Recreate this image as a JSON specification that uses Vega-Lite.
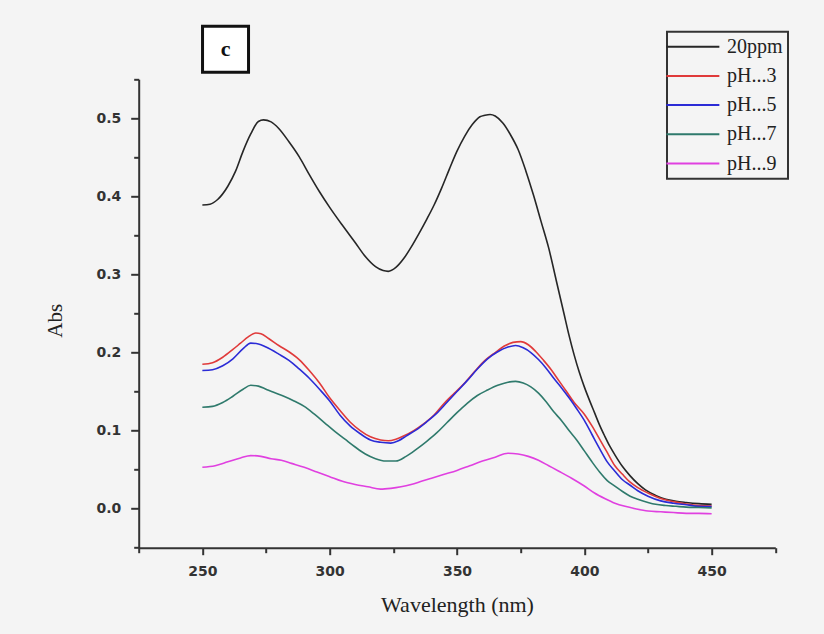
{
  "$schema": "https://vega.github.io/schema/vega-lite/v6.json",
  "autosize": {"type": "none"},
  "width": 636.6,
  "height": 468.4,
  "padding": {"left": 138.7, "top": 79.3, "right": 48.7, "bottom": 86.3},
  "background": "#f4f4f4",
  "config": {
    "view": {"stroke": null},
    "axis": {
      "domainColor": "#333333", "domainWidth": 2, "tickColor": "#333333", "tickWidth": 2,
      "labelFont": "DejaVu Sans", "labelFontWeight": "bold", "labelFontSize": 14, "labelColor": "#333333",
      "titleFont": "Liberation Serif", "titleFontWeight": "normal", "titleColor": "#222222", "grid": false
    }
  },
  "datasets": {
    "spectra": [
      {"s":"20ppm","w":250,"a":0.389},{"s":"20ppm","w":253,"a":0.390},{"s":"20ppm","w":256,"a":0.396},{"s":"20ppm","w":260,"a":0.413},{"s":"20ppm","w":263,"a":0.432},{"s":"20ppm","w":266,"a":0.458},{"s":"20ppm","w":269,"a":0.480},{"s":"20ppm","w":272,"a":0.496},{"s":"20ppm","w":274,"a":0.498},{"s":"20ppm","w":277,"a":0.4955},{"s":"20ppm","w":280,"a":0.487},{"s":"20ppm","w":284,"a":0.470},{"s":"20ppm","w":288,"a":0.451},{"s":"20ppm","w":292,"a":0.428},{"s":"20ppm","w":296,"a":0.406},{"s":"20ppm","w":300,"a":0.386},{"s":"20ppm","w":305,"a":0.363},{"s":"20ppm","w":310,"a":0.341},{"s":"20ppm","w":314,"a":0.323},{"s":"20ppm","w":318,"a":0.310},{"s":"20ppm","w":321,"a":0.305},{"s":"20ppm","w":323,"a":0.304},{"s":"20ppm","w":326,"a":0.309},{"s":"20ppm","w":329,"a":0.320},{"s":"20ppm","w":332,"a":0.335},{"s":"20ppm","w":335,"a":0.352},{"s":"20ppm","w":338,"a":0.370},{"s":"20ppm","w":341,"a":0.389},{"s":"20ppm","w":344,"a":0.411},{"s":"20ppm","w":347,"a":0.435},{"s":"20ppm","w":350,"a":0.458},{"s":"20ppm","w":353,"a":0.477},{"s":"20ppm","w":356,"a":0.492},{"s":"20ppm","w":359,"a":0.502},{"s":"20ppm","w":361,"a":0.504},{"s":"20ppm","w":363,"a":0.505},{"s":"20ppm","w":365,"a":0.503},{"s":"20ppm","w":368,"a":0.494},{"s":"20ppm","w":371,"a":0.479},{"s":"20ppm","w":374,"a":0.460},{"s":"20ppm","w":377,"a":0.433},{"s":"20ppm","w":380,"a":0.402},{"s":"20ppm","w":383,"a":0.368},{"s":"20ppm","w":386,"a":0.334},{"s":"20ppm","w":389,"a":0.292},{"s":"20ppm","w":392,"a":0.250},{"s":"20ppm","w":394,"a":0.222},{"s":"20ppm","w":396,"a":0.197},{"s":"20ppm","w":398,"a":0.175},{"s":"20ppm","w":400,"a":0.156},{"s":"20ppm","w":402,"a":0.139},{"s":"20ppm","w":404,"a":0.123},{"s":"20ppm","w":406,"a":0.107},{"s":"20ppm","w":408,"a":0.093},{"s":"20ppm","w":410,"a":0.080},{"s":"20ppm","w":412,"a":0.069},{"s":"20ppm","w":415,"a":0.054},{"s":"20ppm","w":418,"a":0.042},{"s":"20ppm","w":421,"a":0.032},{"s":"20ppm","w":424,"a":0.024},{"s":"20ppm","w":428,"a":0.017},{"s":"20ppm","w":432,"a":0.012},{"s":"20ppm","w":436,"a":0.0095},{"s":"20ppm","w":440,"a":0.008},{"s":"20ppm","w":445,"a":0.0065},{"s":"20ppm","w":450,"a":0.0055},
      {"s":"pH...3","w":250,"a":0.185},{"s":"pH...3","w":254,"a":0.187},{"s":"pH...3","w":258,"a":0.194},{"s":"pH...3","w":262,"a":0.204},{"s":"pH...3","w":265,"a":0.212},{"s":"pH...3","w":268,"a":0.220},{"s":"pH...3","w":271,"a":0.225},{"s":"pH...3","w":273,"a":0.224},{"s":"pH...3","w":276,"a":0.218},{"s":"pH...3","w":280,"a":0.209},{"s":"pH...3","w":284,"a":0.201},{"s":"pH...3","w":288,"a":0.191},{"s":"pH...3","w":292,"a":0.177},{"s":"pH...3","w":296,"a":0.161},{"s":"pH...3","w":300,"a":0.142},{"s":"pH...3","w":304,"a":0.126},{"s":"pH...3","w":308,"a":0.111},{"s":"pH...3","w":312,"a":0.100},{"s":"pH...3","w":316,"a":0.092},{"s":"pH...3","w":320,"a":0.088},{"s":"pH...3","w":323,"a":0.087},{"s":"pH...3","w":326,"a":0.089},{"s":"pH...3","w":329,"a":0.093},{"s":"pH...3","w":333,"a":0.100},{"s":"pH...3","w":337,"a":0.109},{"s":"pH...3","w":341,"a":0.120},{"s":"pH...3","w":345,"a":0.135},{"s":"pH...3","w":349,"a":0.148},{"s":"pH...3","w":353,"a":0.161},{"s":"pH...3","w":357,"a":0.176},{"s":"pH...3","w":361,"a":0.190},{"s":"pH...3","w":365,"a":0.200},{"s":"pH...3","w":369,"a":0.209},{"s":"pH...3","w":372,"a":0.213},{"s":"pH...3","w":375,"a":0.214},{"s":"pH...3","w":378,"a":0.210},{"s":"pH...3","w":381,"a":0.201},{"s":"pH...3","w":384,"a":0.190},{"s":"pH...3","w":387,"a":0.178},{"s":"pH...3","w":390,"a":0.164},{"s":"pH...3","w":393,"a":0.150},{"s":"pH...3","w":396,"a":0.136},{"s":"pH...3","w":400,"a":0.121},{"s":"pH...3","w":403,"a":0.106},{"s":"pH...3","w":406,"a":0.089},{"s":"pH...3","w":409,"a":0.072},{"s":"pH...3","w":412,"a":0.055},{"s":"pH...3","w":415,"a":0.044},{"s":"pH...3","w":418,"a":0.034},{"s":"pH...3","w":421,"a":0.027},{"s":"pH...3","w":425,"a":0.020},{"s":"pH...3","w":430,"a":0.013},{"s":"pH...3","w":435,"a":0.009},{"s":"pH...3","w":440,"a":0.006},{"s":"pH...3","w":445,"a":0.004},{"s":"pH...3","w":450,"a":0.0035},
      {"s":"pH...5","w":250,"a":0.177},{"s":"pH...5","w":254,"a":0.178},{"s":"pH...5","w":258,"a":0.183},{"s":"pH...5","w":262,"a":0.192},{"s":"pH...5","w":266,"a":0.205},{"s":"pH...5","w":269,"a":0.212},{"s":"pH...5","w":272,"a":0.211},{"s":"pH...5","w":275,"a":0.207},{"s":"pH...5","w":280,"a":0.198},{"s":"pH...5","w":284,"a":0.190},{"s":"pH...5","w":288,"a":0.179},{"s":"pH...5","w":292,"a":0.167},{"s":"pH...5","w":296,"a":0.153},{"s":"pH...5","w":300,"a":0.138},{"s":"pH...5","w":304,"a":0.120},{"s":"pH...5","w":308,"a":0.106},{"s":"pH...5","w":312,"a":0.096},{"s":"pH...5","w":316,"a":0.088},{"s":"pH...5","w":320,"a":0.085},{"s":"pH...5","w":324,"a":0.084},{"s":"pH...5","w":327,"a":0.087},{"s":"pH...5","w":330,"a":0.093},{"s":"pH...5","w":334,"a":0.101},{"s":"pH...5","w":338,"a":0.111},{"s":"pH...5","w":342,"a":0.122},{"s":"pH...5","w":346,"a":0.136},{"s":"pH...5","w":350,"a":0.150},{"s":"pH...5","w":354,"a":0.164},{"s":"pH...5","w":358,"a":0.179},{"s":"pH...5","w":362,"a":0.192},{"s":"pH...5","w":366,"a":0.201},{"s":"pH...5","w":370,"a":0.207},{"s":"pH...5","w":373,"a":0.209},{"s":"pH...5","w":376,"a":0.206},{"s":"pH...5","w":379,"a":0.200},{"s":"pH...5","w":382,"a":0.191},{"s":"pH...5","w":385,"a":0.180},{"s":"pH...5","w":388,"a":0.167},{"s":"pH...5","w":391,"a":0.155},{"s":"pH...5","w":394,"a":0.142},{"s":"pH...5","w":397,"a":0.128},{"s":"pH...5","w":400,"a":0.113},{"s":"pH...5","w":403,"a":0.095},{"s":"pH...5","w":406,"a":0.077},{"s":"pH...5","w":409,"a":0.060},{"s":"pH...5","w":412,"a":0.048},{"s":"pH...5","w":415,"a":0.037},{"s":"pH...5","w":418,"a":0.030},{"s":"pH...5","w":421,"a":0.023},{"s":"pH...5","w":425,"a":0.016},{"s":"pH...5","w":430,"a":0.010},{"s":"pH...5","w":435,"a":0.007},{"s":"pH...5","w":440,"a":0.005},{"s":"pH...5","w":445,"a":0.003},{"s":"pH...5","w":450,"a":0.0027},
      {"s":"pH...7","w":250,"a":0.130},{"s":"pH...7","w":254,"a":0.131},{"s":"pH...7","w":258,"a":0.136},{"s":"pH...7","w":262,"a":0.144},{"s":"pH...7","w":266,"a":0.153},{"s":"pH...7","w":269,"a":0.158},{"s":"pH...7","w":272,"a":0.157},{"s":"pH...7","w":275,"a":0.153},{"s":"pH...7","w":278,"a":0.149},{"s":"pH...7","w":282,"a":0.144},{"s":"pH...7","w":286,"a":0.138},{"s":"pH...7","w":290,"a":0.131},{"s":"pH...7","w":294,"a":0.121},{"s":"pH...7","w":298,"a":0.110},{"s":"pH...7","w":302,"a":0.099},{"s":"pH...7","w":306,"a":0.089},{"s":"pH...7","w":310,"a":0.079},{"s":"pH...7","w":314,"a":0.070},{"s":"pH...7","w":318,"a":0.064},{"s":"pH...7","w":322,"a":0.061},{"s":"pH...7","w":326,"a":0.061},{"s":"pH...7","w":330,"a":0.067},{"s":"pH...7","w":334,"a":0.076},{"s":"pH...7","w":338,"a":0.086},{"s":"pH...7","w":342,"a":0.097},{"s":"pH...7","w":346,"a":0.110},{"s":"pH...7","w":350,"a":0.123},{"s":"pH...7","w":354,"a":0.135},{"s":"pH...7","w":358,"a":0.145},{"s":"pH...7","w":362,"a":0.152},{"s":"pH...7","w":366,"a":0.158},{"s":"pH...7","w":370,"a":0.162},{"s":"pH...7","w":373,"a":0.163},{"s":"pH...7","w":376,"a":0.161},{"s":"pH...7","w":379,"a":0.156},{"s":"pH...7","w":382,"a":0.148},{"s":"pH...7","w":385,"a":0.137},{"s":"pH...7","w":388,"a":0.124},{"s":"pH...7","w":391,"a":0.113},{"s":"pH...7","w":394,"a":0.100},{"s":"pH...7","w":397,"a":0.088},{"s":"pH...7","w":400,"a":0.074},{"s":"pH...7","w":403,"a":0.060},{"s":"pH...7","w":406,"a":0.047},{"s":"pH...7","w":409,"a":0.036},{"s":"pH...7","w":412,"a":0.029},{"s":"pH...7","w":415,"a":0.022},{"s":"pH...7","w":418,"a":0.016},{"s":"pH...7","w":421,"a":0.012},{"s":"pH...7","w":425,"a":0.008},{"s":"pH...7","w":428,"a":0.0056},{"s":"pH...7","w":432,"a":0.004},{"s":"pH...7","w":436,"a":0.003},{"s":"pH...7","w":440,"a":0.002},{"s":"pH...7","w":445,"a":0.0015},{"s":"pH...7","w":450,"a":0.001},
      {"s":"pH...9","w":250,"a":0.053},{"s":"pH...9","w":255,"a":0.055},{"s":"pH...9","w":260,"a":0.060},{"s":"pH...9","w":265,"a":0.065},{"s":"pH...9","w":269,"a":0.068},{"s":"pH...9","w":273,"a":0.067},{"s":"pH...9","w":277,"a":0.064},{"s":"pH...9","w":281,"a":0.062},{"s":"pH...9","w":285,"a":0.058},{"s":"pH...9","w":290,"a":0.053},{"s":"pH...9","w":295,"a":0.047},{"s":"pH...9","w":300,"a":0.041},{"s":"pH...9","w":305,"a":0.035},{"s":"pH...9","w":310,"a":0.031},{"s":"pH...9","w":315,"a":0.028},{"s":"pH...9","w":320,"a":0.025},{"s":"pH...9","w":324,"a":0.026},{"s":"pH...9","w":328,"a":0.028},{"s":"pH...9","w":332,"a":0.031},{"s":"pH...9","w":336,"a":0.035},{"s":"pH...9","w":340,"a":0.039},{"s":"pH...9","w":345,"a":0.044},{"s":"pH...9","w":350,"a":0.049},{"s":"pH...9","w":355,"a":0.055},{"s":"pH...9","w":360,"a":0.061},{"s":"pH...9","w":365,"a":0.066},{"s":"pH...9","w":370,"a":0.071},{"s":"pH...9","w":374,"a":0.070},{"s":"pH...9","w":378,"a":0.067},{"s":"pH...9","w":382,"a":0.062},{"s":"pH...9","w":386,"a":0.055},{"s":"pH...9","w":390,"a":0.048},{"s":"pH...9","w":395,"a":0.039},{"s":"pH...9","w":400,"a":0.029},{"s":"pH...9","w":404,"a":0.020},{"s":"pH...9","w":408,"a":0.013},{"s":"pH...9","w":412,"a":0.007},{"s":"pH...9","w":416,"a":0.003},{"s":"pH...9","w":420,"a":0.000},{"s":"pH...9","w":425,"a":-0.003},{"s":"pH...9","w":430,"a":-0.004},{"s":"pH...9","w":435,"a":-0.005},{"s":"pH...9","w":440,"a":-0.006},{"s":"pH...9","w":445,"a":-0.006},{"s":"pH...9","w":450,"a":-0.0065}
    ],
    "note": [{"label": "c", "w": 259.1, "a": 0.5885}]
  },
  "resolve": {"axis": {"x": "independent", "y": "independent"}},
  "layer": [
    {
      "data": {"name": "spectra"},
      "mark": {"type": "line", "strokeWidth": 1.6, "interpolate": "monotone"},
      "encoding": {
        "x": {"field": "w", "type": "quantitative", "scale": {"domain": [225, 475], "nice": false, "zero": false},
          "axis": {"orient": "bottom", "title": "Wavelength (nm)", "values": [250, 300, 350, 400, 450], "tickSize": 7, "labelPadding": 10, "titleFontSize": 22, "titlePadding": 16}},
        "y": {"field": "a", "type": "quantitative", "scale": {"domain": [-0.05, 0.55], "nice": false, "zero": false},
          "axis": {"orient": "left", "title": "Abs", "values": [0, 0.1, 0.2, 0.3, 0.4, 0.5], "format": ".1f", "tickSize": 8, "labelPadding": 10, "titleFontSize": 21, "titlePadding": 30, "titleY": 241}},
        "color": {"field": "s", "type": "nominal",
          "scale": {"domain": ["20ppm", "pH...3", "pH...5", "pH...7", "pH...9"], "range": ["#262626", "#e03a3a", "#2b2bd6", "#2f7a6c", "#e040e0"]},
          "legend": {"orient": "none", "legendX": 528.3, "legendY": -47.6, "title": null,
            "symbolType": "M-5,0H5", "symbolSize": 112, "symbolStrokeWidth": 2, "symbolOffset": 10.9,
            "labelFont": "Liberation Serif", "labelFontSize": 20, "labelColor": "#222222", "labelOffset": 24.2, "labelLimit": 200,
            "rowPadding": 9.2, "padding": 5, "strokeColor": "#333333",
            "encode": {"legend": {"update": {"strokeWidth": {"value": 2}}}}}}
      }
    },
    {
      "data": {"name": "spectra"},
      "mark": {"type": "line", "opacity": 0},
      "encoding": {
        "x": {"field": "w", "type": "quantitative", "axis": {"orient": "bottom", "title": null, "labels": false, "domain": false, "values": [225, 275, 325, 375, 425, 475], "tickSize": 5}},
        "y": {"field": "a", "type": "quantitative", "axis": {"orient": "left", "title": null, "labels": false, "domain": false, "values": [-0.05, 0.05, 0.15, 0.25, 0.35, 0.45, 0.55], "tickSize": 5}},
        "detail": {"field": "s"}
      }
    },
    {
      "data": {"name": "note"},
      "mark": {"type": "point", "shape": "square", "size": 2116, "filled": false, "fill": "#ffffff", "fillOpacity": 1, "stroke": "#111111", "strokeWidth": 3, "opacity": 1},
      "encoding": {
        "x": {"field": "w", "type": "quantitative", "axis": null},
        "y": {"field": "a", "type": "quantitative", "axis": null}
      }
    },
    {
      "data": {"name": "note"},
      "mark": {"type": "text", "font": "Liberation Serif", "fontWeight": "bold", "fontSize": 22, "color": "#111111", "baseline": "middle", "align": "center"},
      "encoding": {
        "x": {"field": "w", "type": "quantitative", "axis": null},
        "y": {"field": "a", "type": "quantitative", "axis": null},
        "text": {"field": "label"}
      }
    }
  ]
}
